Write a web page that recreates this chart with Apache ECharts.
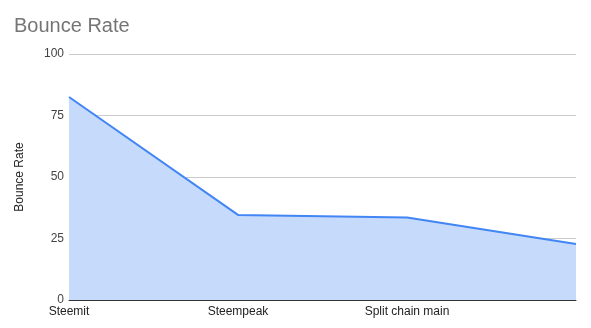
<!DOCTYPE html>
<html>
<head>
<meta charset="utf-8">
<script src="https://cdn.jsdelivr.net/npm/echarts@6/dist/echarts.min.js"></script>
<style>
html,body{margin:0;padding:0;background:#fff;}
#c{width:591px;height:328px;}
</style>
</head>
<body>
<div id="c"></div>
<script>
const categories = ["Steemit", "Steempeak", "Split chain main", ""];
const bounceRate = [82.5, 34.6, 33.5, 22.8];
const yTicks = [0, 25, 50, 75, 100];

const chart = echarts.init(document.getElementById('c'), null, {renderer: 'canvas'});
chart.setOption({
  animation: false,
  backgroundColor: '#ffffff',
  title: {
    text: 'Bounce Rate',
    left: 9, top: 11,
    textStyle: {fontFamily: 'Liberation Sans, Arial, sans-serif', fontSize: 20, fontWeight: 'normal', color: '#757575'}
  },
  grid: {left: 69, right: 15, top: 54, bottom: 28, containLabel: false},
  xAxis: {
    type: 'category',
    data: categories,
    boundaryGap: false,
    axisLine: {show: true, lineStyle: {color: '#333333', width: 1}},
    axisTick: {show: false},
    axisLabel: {
      color: '#222222', fontSize: 12, fontFamily: 'Liberation Sans, Arial, sans-serif', margin: 6,
      interval: 0
    },
    splitLine: {show: false}
  },
  yAxis: {
    type: 'value',
    min: yTicks[0], max: yTicks[yTicks.length - 1], interval: 25,
    name: 'Bounce Rate',
    nameLocation: 'middle',
    nameGap: 43,
    nameTextStyle: {color: '#222222', fontSize: 12, fontFamily: 'Liberation Sans, Arial, sans-serif'},
    axisLine: {show: false},
    axisTick: {show: false},
    axisLabel: {color: '#444444', fontSize: 12, fontFamily: 'Liberation Sans, Arial, sans-serif', margin: 5},
    splitLine: {lineStyle: {color: '#cccccc', width: 1}}
  },
  series: [{
    type: 'line',
    data: bounceRate,
    symbol: 'none',
    lineStyle: {color: '#4285f4', width: 2},
    areaStyle: {color: '#c6dafc', opacity: 1},
    z: 2
  }]
});
</script>
</body>
</html>
